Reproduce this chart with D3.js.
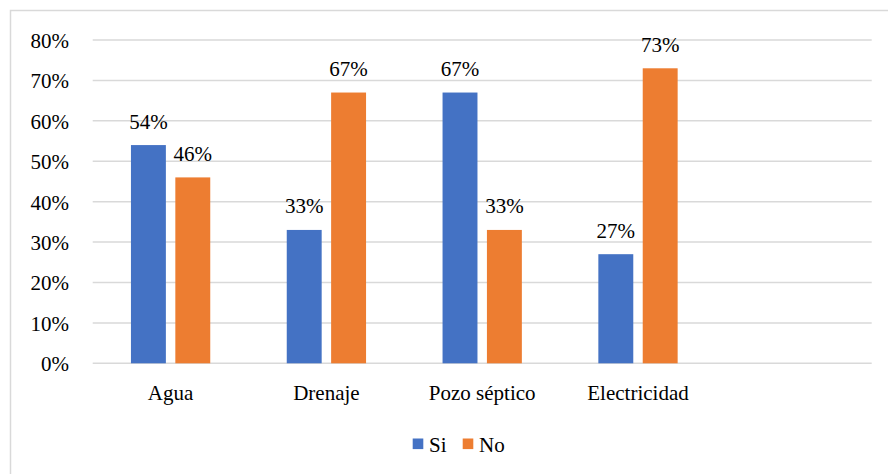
<!DOCTYPE html>
<html><head><meta charset="utf-8">
<script src="https://cdn.jsdelivr.net/npm/d3@7"></script>
<style>body{margin:0;background:#fff}svg{display:block}svg text{font-family:"Times New Roman","Liberation Serif",Tinos,"DejaVu Serif",serif !important;fill:#000}</style>
</head><body><svg id="c" width="888" height="474"></svg>
<script>
const categories = ["Agua", "Drenaje", "Pozo séptico", "Electricidad", ""];
const seriesNames = ["Si", "No"];
const siValues = [0.54, 0.33, 0.67, 0.27, null];
const noValues = [0.46, 0.67, 0.33, 0.73, null];
const yTicks = [0, 0.1, 0.2, 0.3, 0.4, 0.5, 0.6, 0.7, 0.8];
const colors = ["#4472C4", "#ED7D31"];

(function () {
const svg = d3.select("#c");
const fs = 21;
const pLeft = 92.7, pRight = 871.7, pTop = 40, pBottom = 363.3;

svg.append("rect").attr("x", 10.5).attr("y", 10.5).attr("width", 900).attr("height", 500)
  .attr("fill", "none").attr("stroke", "#D9D9D9").attr("stroke-width", 1.5);

const x = d3.scaleBand().domain(categories).range([pLeft, pRight]).paddingInner(0.491).paddingOuter(0.2455);
const xs = d3.scaleBand().domain(seriesNames).range([0, x.bandwidth()]).paddingInner(0.213).paddingOuter(0);
const y = d3.scaleLinear().domain([0, 0.8]).range([pBottom, pTop]);

svg.append("g").selectAll("line").data(yTicks).join("line")
  .attr("x1", pLeft).attr("x2", pRight).attr("y1", d => y(d)).attr("y2", d => y(d))
  .attr("stroke", "#D9D9D9").attr("stroke-width", 1.5);

const yAxis = d3.axisLeft(y).tickValues(yTicks).tickFormat(d3.format(".0%")).tickSize(0).tickPadding(0);
const ya = svg.append("g").attr("transform", "translate(69,0)").call(yAxis).attr("font-family", null).attr("font-size", null);
ya.select(".domain").remove();
ya.selectAll("text").attr("font-size", fs).attr("fill", "#000").attr("dy", "0.35em");

const xAxis = d3.axisBottom(x).tickSize(0).tickPadding(0);
const xa = svg.append("g").attr("transform", `translate(0,${pBottom})`).call(xAxis).attr("font-family", null).attr("font-size", null);
xa.select(".domain").remove();
xa.selectAll("text").attr("font-size", fs).attr("fill", "#000").attr("dy", null).attr("y", 37);

const data = categories.map((c, i) => ({c, vals: [siValues[i], noValues[i]]}));
const groups = svg.append("g").selectAll("g").data(data).join("g")
  .attr("transform", d => `translate(${x(d.c)},0)`);
const bars = groups.selectAll("g").data(d => d.vals.map((v, j) => ({s: seriesNames[j], v, j})).filter(e => e.v != null)).join("g");
bars.append("rect")
  .attr("x", d => xs(d.s)).attr("width", xs.bandwidth())
  .attr("y", d => y(d.v)).attr("height", d => y(0) - y(d.v))
  .attr("fill", d => colors[d.j]);
bars.append("text")
  .attr("x", d => xs(d.s) + xs.bandwidth() / 2).attr("y", d => y(d.v) - 16.5)
  .attr("text-anchor", "middle").attr("font-size", fs)
  .text(d => d3.format(".0%")(d.v));

const leg = svg.append("g");
const legX = [412.7, 462.7];
seriesNames.forEach((s, i) => {
  leg.append("rect").attr("x", legX[i]).attr("y", 438.5).attr("width", 10.6).attr("height", 10.6).attr("fill", colors[i]);
  leg.append("text").attr("x", legX[i] + 16.3).attr("y", 451.5).attr("font-size", fs).text(s);
});
})();
</script></body></html>
